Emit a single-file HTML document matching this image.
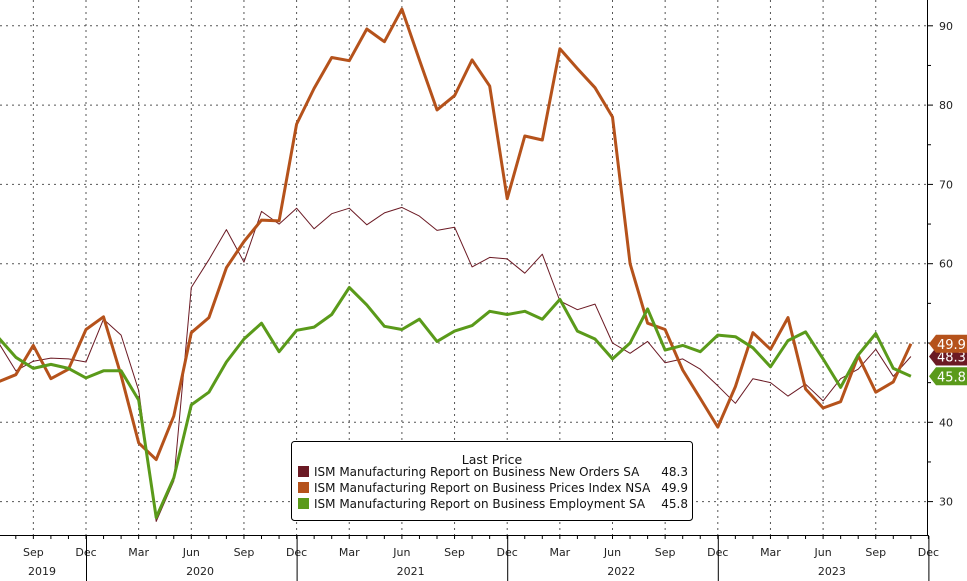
<!DOCTYPE html>
<html><head><meta charset="utf-8">
<style>
html,body{margin:0;padding:0;background:#fff;}
svg{display:block;font-family:"DejaVu Sans","Liberation Sans",sans-serif;}
</style></head>
<body>
<svg id="c" width="967" height="581" viewBox="0 0 967 581" xmlns="http://www.w3.org/2000/svg">
<rect width="967" height="581" fill="#fff"/>
<g id="grid" stroke="#555" stroke-width="1" stroke-dasharray="2,4" fill="none"></g>
<g id="axis"></g>
<g id="series" fill="none" stroke-linejoin="round"></g>
<g id="legend">
<rect x="291.5" y="441.5" width="401" height="79" rx="3" fill="#fff" stroke="#000" stroke-width="1"/>
<text x="492" y="464" font-size="12.5" text-anchor="middle" fill="#111">Last Price</text>
<rect x="298" y="466" width="11" height="11" fill="#6b1a24"/>
<rect x="298" y="482" width="11" height="11" fill="#b5521b"/>
<rect x="298" y="498" width="11" height="11" fill="#5a9a1a"/>
<g font-size="12" fill="#111">
<text x="314" y="476">ISM Manufacturing Report on Business New Orders SA</text>
<text x="314" y="492">ISM Manufacturing Report on Business Prices Index NSA</text>
<text x="314" y="508">ISM Manufacturing Report on Business Employment SA</text>
<text x="688" y="476" text-anchor="end">48.3</text>
<text x="688" y="492" text-anchor="end">49.9</text>
<text x="688" y="508" text-anchor="end">45.8</text>
</g>
</g>
<g id="tags"></g>
</svg>
<script>
var NS="http://www.w3.org/2000/svg";
function el(t,a,p,txt){var e=document.createElementNS(NS,t);for(var k in a)e.setAttribute(k,a[k]);if(txt!==undefined)e.textContent=txt;document.getElementById(p).appendChild(e);return e;}
function X(m){return 86+m*17.55;} // m: months from Dec 2019
function Y(v){return 343-(v-50)*7.93;}
// grid
for(var v=30;v<=90;v+=10){el("line",{x1:0,x2:927,y1:Y(v),y2:Y(v)},"grid");}
for(var q=-1;q<=15;q++){var x=X(q*3);el("line",{x1:x,x2:x,y1:0,y2:535},"grid");}
// axes
el("line",{x1:927.5,x2:927.5,y1:0,y2:536,stroke:"#000"},"axis");
el("line",{x1:0,x2:928,y1:535.5,y2:535.5,stroke:"#000"},"axis");
for(var v=30;v<=90;v+=10){el("line",{x1:927,x2:933,y1:Y(v),y2:Y(v),stroke:"#000"},"axis");
 el("text",{x:939,y:Y(v)+4,"font-size":11,fill:"#222"},"axis",v);}
for(var v=25;v<=95;v+=10){if(Y(v)>0&&Y(v)<536)el("line",{x1:927,x2:931,y1:Y(v),y2:Y(v),stroke:"#000"},"axis");}
for(var m=-5;m<=48;m++){el("line",{x1:X(m),x2:X(m),y1:535,y2:539,stroke:"#000"},"axis");}
var ml=["Sep","Dec","Mar","Jun"];
for(var q=-1;q<=16;q++){var m=q*3;var mo=((m%12)+12)%12; var name={0:"Dec",3:"Mar",6:"Jun",9:"Sep"}[mo];
 el("text",{x:X(m),y:556,"font-size":11,"text-anchor":"middle",fill:"#222"},"axis",name);}
[0,12,24,36,48].forEach(function(m){el("line",{x1:X(m)+0.5,x2:X(m)+0.5,y1:536,y2:581,stroke:"#000"},"axis");});
[[-5.5,"2019"],[6,"2020"],[18,"2021"],[30,"2022"],[42,"2023"]].forEach(function(a){
 var x=a[0]==-5.5?42:X(a[1]=="2020"?6.5:a[0]+0.5);el("text",{x:x,y:575,"font-size":11,"text-anchor":"middle",fill:"#222"},"axis",a[1]);});
// data starting Jul 2019 (m=-5)
var no=[50.1,46.5,47.7,48.1,48,47.6,53,51,44,27.5,32.6,57,60.5,64.3,60.2,66.6,65,67,64.4,66.3,67,64.9,66.4,67.1,66,64.2,64.6,59.6,60.8,60.6,58.8,61.2,55.3,54.2,54.9,50,48.7,50.2,47.5,48,46.7,44.6,42.4,45.5,45,43.3,44.8,42.7,45.5,46.7,49.2,45.8,48.3];
var pr=[45.1,46.0,49.7,45.5,46.7,51.7,53.3,45.9,37.4,35.3,40.8,51.3,53.2,59.5,62.8,65.5,65.4,77.6,82.1,86.0,85.6,89.6,88.0,92.1,85.7,79.4,81.2,85.7,82.4,68.2,76.1,75.6,87.1,84.6,82.2,78.5,60.0,52.5,51.7,46.6,43.0,39.4,44.5,51.3,49.2,53.2,44.2,41.8,42.6,48.4,43.8,45.1,49.9];
var em=[50.7,48.2,46.8,47.3,46.8,45.6,46.5,46.5,42.8,28,33,42.2,43.8,47.6,50.5,52.5,48.9,51.6,52,53.6,57,54.8,52.1,51.7,53,50.2,51.5,52.2,54,53.6,54,53,55.5,51.5,50.5,48,50,54.3,49.1,49.7,48.9,51,50.8,49.4,47,50.3,51.4,48,44.4,48.5,51.2,46.8,45.8];
function pts(d){return d.map(function(v,i){return X(i-5).toFixed(1)+","+Y(v).toFixed(1)}).join(" ");}
el("polyline",{points:pts(no),stroke:"#6b1a24","stroke-width":1},"series");
el("polyline",{points:pts(pr),stroke:"#b5521b","stroke-width":3},"series");
el("polyline",{points:pts(em),stroke:"#5a9a1a","stroke-width":3},"series");
// tags
function tag(v,col,txt,fc){var y=Y(v);el("path",{d:"M929,"+y+" L936,"+(y-9)+" L967,"+(y-9)+" L967,"+(y+9)+" L936,"+(y+9)+" Z",fill:col},"tags");
 el("text",{x:937,y:y+5,"font-size":13,fill:fc||"#fff"},"tags",txt);}
tag(48.3,"#6b1a24","48.3");
tag(49.9,"#b5521b","49.9");
tag(45.8,"#5a9a1a","45.8");
</script>
</body></html>
